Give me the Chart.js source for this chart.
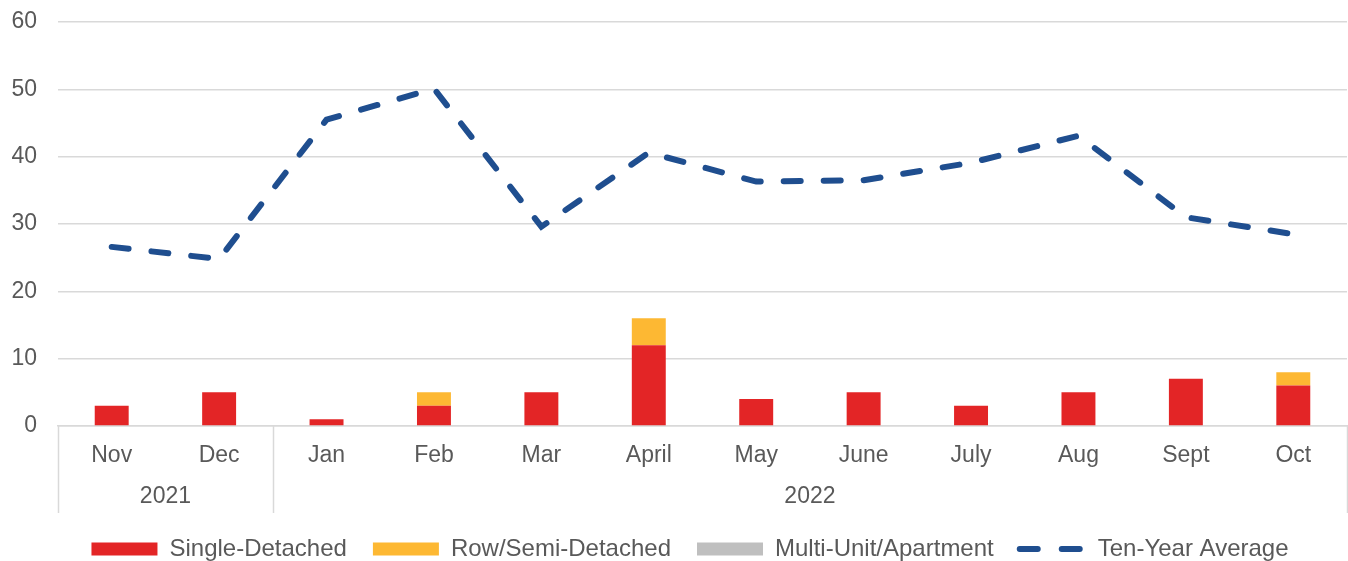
<!DOCTYPE html>
<html>
<head>
<meta charset="utf-8">
<title>Housing starts</title>
<script src="https://cdn.jsdelivr.net/npm/chart.js@4.4.0/dist/chart.umd.min.js"></script>
<style>
    html, body { margin: 0; padding: 0; background: #ffffff; }
    #wrap { width: 1348px; height: 561px; position: relative; }
</style>
</head>
<body>
<div id="wrap"><canvas id="startsChart"></canvas></div>
<script>
const months = ['Nov', 'Dec', 'Jan', 'Feb', 'Mar', 'April', 'May', 'June', 'July', 'Aug', 'Sept', 'Oct'];
const years = ['2021', '2022'];
const yearSpans = [2, 10];

const singleDetached = [3, 5, 1, 3, 5, 12, 4, 5, 3, 5, 7, 6];
const rowSemi = [0, 0, 0, 2, 0, 4, 0, 0, 0, 0, 0, 2];
const multiUnit = [0, 0, 0, 0, 0, 0, 0, 0, 0, 0, 0, 0];
const tenYearAvg = [26.6, 24.8, 45.5, 50.1, 29.6, 40.6, 36.3, 36.5, 39.1, 43.1, 31.0, 28.5];

const yTicks = [0, 10, 20, 30, 40, 50, 60];

const FONT = "'Liberation Sans', Arial, sans-serif";
const TEXT = '#595959';
const GRID = '#d9d9d9';

// second row of the category axis: year labels and group separators
const yearRow = {
    id: 'yearRow',
    afterLayout(chart) {
        // legend in the original sits a little right of centre
        chart.legend.left += 33;
    },
    afterDraw(chart) {
        const ctx = chart.ctx;
        const x = chart.scales.x;
        const area = chart.chartArea;
        const bottom = area.bottom + 87;
        const half = (x.getPixelForValue(1) - x.getPixelForValue(0)) / 2;

        ctx.save();
        ctx.strokeStyle = GRID;
        ctx.lineWidth = 1.5;
        ctx.fillStyle = TEXT;
        ctx.font = '23px ' + FONT;
        ctx.textAlign = 'center';
        ctx.textBaseline = 'middle';

        let start = 0;
        const edges = [area.left];
        years.forEach((yr, i) => {
            const end = start + yearSpans[i] - 1;
            const left = x.getPixelForValue(start) - half;
            const right = x.getPixelForValue(end) + half;
            edges.push(right);
            ctx.fillText(yr, (left + right) / 2, area.bottom + 71);
            start = end + 1;
        });
        edges.forEach((ex) => {
            ctx.beginPath();
            ctx.moveTo(Math.round(ex) + 0.5, area.bottom);
            ctx.lineTo(Math.round(ex) + 0.5, bottom);
            ctx.stroke();
        });
        ctx.restore();
    }
};

new Chart(document.getElementById('startsChart').getContext('2d'), {
    data: {
        labels: months,
        datasets: [
            {
                type: 'bar',
                label: 'Single-Detached',
                data: singleDetached,
                backgroundColor: '#e32526',
                stack: 'starts',
                order: 2
            },
            {
                type: 'bar',
                label: 'Row/Semi-Detached',
                data: rowSemi,
                backgroundColor: '#fdb833',
                stack: 'starts',
                order: 2
            },
            {
                type: 'bar',
                label: 'Multi-Unit/Apartment',
                data: multiUnit,
                backgroundColor: '#bfbfbf',
                stack: 'starts',
                order: 2
            },
            {
                type: 'line',
                label: 'Ten-Year Average',
                data: tenYearAvg,
                borderColor: '#1f4e8f',
                borderWidth: 6,
                borderDash: [17, 23],
                borderCapStyle: 'round',
                pointRadius: 0,
                tension: 0,
                fill: false,
                stack: 'avg',
                order: 1
            }
        ]
    },
    options: {
        responsive: true,
        maintainAspectRatio: false,
        animation: false,
        layout: {
            padding: { top: 22, right: 1, left: 0, bottom: -10 }
        },
        datasets: {
            bar: {
                categoryPercentage: 1,
                barPercentage: 0.316
            }
        },
        scales: {
            x: {
                stacked: true,
                grid: { display: false, drawTicks: false },
                border: { display: true, color: GRID, width: 1.5 },
                ticks: {
                    color: TEXT,
                    font: { family: FONT, size: 23 },
                    padding: 16,
                    maxRotation: 0,
                    autoSkip: false
                },
                afterFit: (scale) => { scale.height = 85; }
            },
            y: {
                stacked: true,
                min: 0,
                max: 60,
                afterBuildTicks: (scale) => {
                    scale.ticks = yTicks.map((v) => ({ value: v }));
                },
                grid: { color: GRID, lineWidth: 1.5, drawTicks: false },
                border: { display: false },
                ticks: {
                    color: TEXT,
                    font: { family: FONT, size: 23 },
                    padding: 21
                },
                afterFit: (scale) => {
                    scale.width = 58;
                    scale.paddingTop = 0;
                    scale.paddingBottom = 0;
                }
            }
        },
        plugins: {
            tooltip: { enabled: false },
            legend: {
                position: 'bottom',
                labels: {
                    usePointStyle: true,
                    pointStyleWidth: 66,
                    boxHeight: 13,
                    padding: 26,
                    color: TEXT,
                    font: { family: FONT, size: 24 },
                    generateLabels: (chart) => chart.data.datasets.map((ds, i) => {
                        const isLine = ds.type === 'line';
                        return {
                            text: ds.label,
                            datasetIndex: i,
                            fillStyle: isLine ? ds.borderColor : ds.backgroundColor,
                            strokeStyle: isLine ? ds.borderColor : ds.backgroundColor,
                            lineWidth: isLine ? 6 : 0,
                            lineDash: isLine ? [18, 24] : [],
                            lineCap: isLine ? 'round' : 'butt',
                            pointStyle: isLine ? 'line' : 'rect',
                            fontColor: TEXT,
                            hidden: false
                        };
                    })
                }
            }
        }
    },
    plugins: [yearRow]
});
</script>
</body>
</html>
